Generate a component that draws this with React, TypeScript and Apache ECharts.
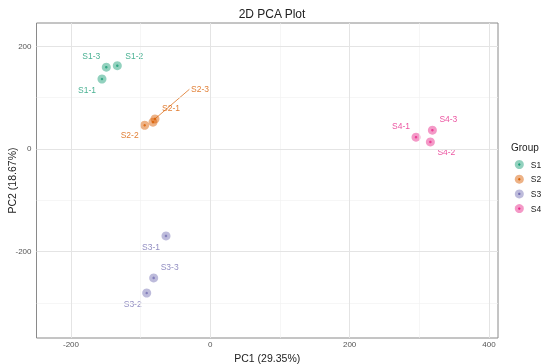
import React, { useEffect, useRef } from "react";
import * as echarts from "echarts";

const groups = ["S1", "S2", "S3", "S4"];
const groupColors = ["#1B9E77", "#D95F02", "#7570B3", "#E7298A"];
const groupFills = ["rgba(27,158,119,0.6)", "rgba(217,95,2,0.6)", "rgba(117,112,179,0.6)", "rgba(231,41,138,0.6)"];

const s1Names = ["S1-1", "S1-2", "S1-3"];
const s1PC1 = [-155.5, -133.5, -149.3];
const s1PC2 = [136, 162, 159];

const s2Names = ["S2-1", "S2-2", "S2-3"];
const s2PC1 = [-82.3, -94.2, -79.4];
const s2PC2 = [52, 46, 58.4];

const s3Names = ["S3-1", "S3-2", "S3-3"];
const s3PC1 = [-63.6, -91.3, -81.3];
const s3PC2 = [-169.4, -280.4, -251];

const s4Names = ["S4-1", "S4-2", "S4-3"];
const s4PC1 = [295.3, 315.9, 318.8];
const s4PC2 = [22.8, 13.6, 36.4];

const xTicks = [-200, 0, 200, 400];
const xMinor = [-100, 100, 300];
const yTicks = [-200, 0, 200];
const yMinor = [-300, -100, 100];

// label callout end point for S2-3 (data coords)
const s2_3LabelEnd = [-30, 116];

const labelOffsets: Record<string, number[]> = {
  "S1-1": [-15, 11], "S1-2": [17, -10], "S1-3": [-15, -11],
  "S2-1": [18, -14], "S2-2": [-15, 10], "S2-3": [45, -30],
  "S3-1": [-15, 11], "S3-2": [-14, 11], "S3-3": [16, -11],
  "S4-1": [-15, -11], "S4-2": [16, 10], "S4-3": [16, -11],
};

const groupData = [
  { names: s1Names, x: s1PC1, y: s1PC2 },
  { names: s2Names, x: s2PC1, y: s2PC2 },
  { names: s3Names, x: s3PC1, y: s3PC2 },
  { names: s4Names, x: s4PC1, y: s4PC2 },
];

const FONT = "Liberation Sans, Arial, sans-serif";

export default function App() {
  const ref = useRef<HTMLDivElement>(null);
  useEffect(() => {
    if (!ref.current) return;
    const chart = echarts.init(ref.current, null, { renderer: "svg" });

    const series: any[] = [];
    series.push({
      type: "line",
      data: [],
      z: 0,
      silent: true,
      markLine: {
        silent: true,
        symbol: "none",
        label: { show: false },
        animation: false,
        data: [
          ...xMinor.map((v) => ({ xAxis: v, lineStyle: { color: "#f0f0f0", width: 0.6, type: "solid" } })),
          ...yMinor.map((v) => ({ yAxis: v, lineStyle: { color: "#f0f0f0", width: 0.6, type: "solid" } })),
          ...xTicks.map((v) => ({ xAxis: v, lineStyle: { color: "#e4e4e4", width: 1, type: "solid" } })),
          ...yTicks.map((v) => ({ yAxis: v, lineStyle: { color: "#e4e4e4", width: 1, type: "solid" } })),
        ],
      },
    });
    series.push({
      type: "line",
      data: [[s2PC1[2], s2PC2[2]], s2_3LabelEnd],
      symbol: "none",
      silent: true,
      z: 1,
      lineStyle: { color: groupColors[1], width: 0.7 },
    });
    groupData.forEach((g, gi) => {
      series.push({
        name: groups[gi],
        type: "scatter",
        symbol: "circle",
        symbolSize: 9,
        z: 2,
        itemStyle: { color: groupFills[gi] },
        data: g.names.map((n, i) => ({
          value: [g.x[i], g.y[i]],
          name: n,
          label: {
            show: true,
            position: "inside",
            offset: labelOffsets[n],
            formatter: n,
            color: groupColors[gi],
            fontSize: 8.5,
            fontFamily: FONT,
            align: "center",
            verticalAlign: "middle",
          },
        })),
      });
      series.push({
        name: groups[gi] + "-dot",
        type: "scatter",
        symbol: "circle",
        symbolSize: 2.5,
        silent: true,
        z: 3,
        itemStyle: { color: groupColors[gi] },
        data: g.names.map((n, i) => [g.x[i], g.y[i]]),
      });
    });

    const legendTop = 160;
    const legendStep = 14.7;

    chart.setOption({
      animation: false,
      textStyle: { fontFamily: FONT },
      title: {
        text: "2D PCA Plot",
        left: 267,
        textAlign: "center",
        top: 3,
        textStyle: { fontSize: 12, fontWeight: "normal", color: "#222", fontFamily: FONT },
      },
      grid: {
        left: 36.5,
        right: 52,
        top: 23,
        bottom: 26,
        outerBoundsMode: "none",
        containLabel: false,
        show: true,
        borderColor: "#8a8a8a",
        borderWidth: 1,
        backgroundColor: "transparent",
      },
      xAxis: {
        type: "value",
        min: -249.5,
        max: 413,
        name: "PC1 (29.35%)",
        nameLocation: "middle",
        nameGap: 14,
        nameMoveOverlap: false,
        nameTextStyle: { fontSize: 10.5, color: "#222", fontFamily: FONT },
        axisLine: { show: false },
        splitLine: { show: false },
        axisTick: { show: true, length: 3, lineStyle: { color: "#555" }, customValues: xTicks },
        axisLabel: { customValues: xTicks, fontSize: 8, color: "#555", margin: 2.5, fontFamily: FONT },
      },
      yAxis: {
        type: "value",
        min: -368,
        max: 245,
        name: "PC2 (18.67%)",
        nameLocation: "middle",
        nameGap: 19,
        nameMoveOverlap: false,
        nameTextStyle: { fontSize: 10.5, color: "#222", fontFamily: FONT },
        axisLine: { show: false },
        splitLine: { show: false },
        axisTick: { show: true, length: 3, lineStyle: { color: "#555" }, customValues: yTicks },
        axisLabel: { customValues: yTicks, fontSize: 8, color: "#555", margin: 5, fontFamily: FONT },
      },
      legend: {
        data: groups,
        orient: "vertical",
        left: 514.8,
        top: legendTop,
        padding: 0,
        icon: "circle",
        itemWidth: 9,
        itemHeight: 9,
        itemGap: legendStep - 9,
        textStyle: { fontSize: 8.5, color: "#222", fontFamily: FONT, padding: [0, 0, 0, 2] },
      },
      graphic: [
        {
          type: "text",
          left: 511,
          top: 142,
          style: { text: "Group", fontSize: 10, fill: "#222", fontFamily: FONT },
        },
        ...groups.map((g, i) => ({
          type: "circle",
          shape: { cx: 519.3, cy: legendTop + 4.5 + i * legendStep, r: 1.2 },
          style: { fill: groupColors[i] },
          z: 100,
        })),
      ],
      series,
    });
    return () => chart.dispose();
  }, []);
  return <div ref={ref} style={{ position: "fixed", left: 0, top: 0, width: 550, height: 364 }} />;
}
